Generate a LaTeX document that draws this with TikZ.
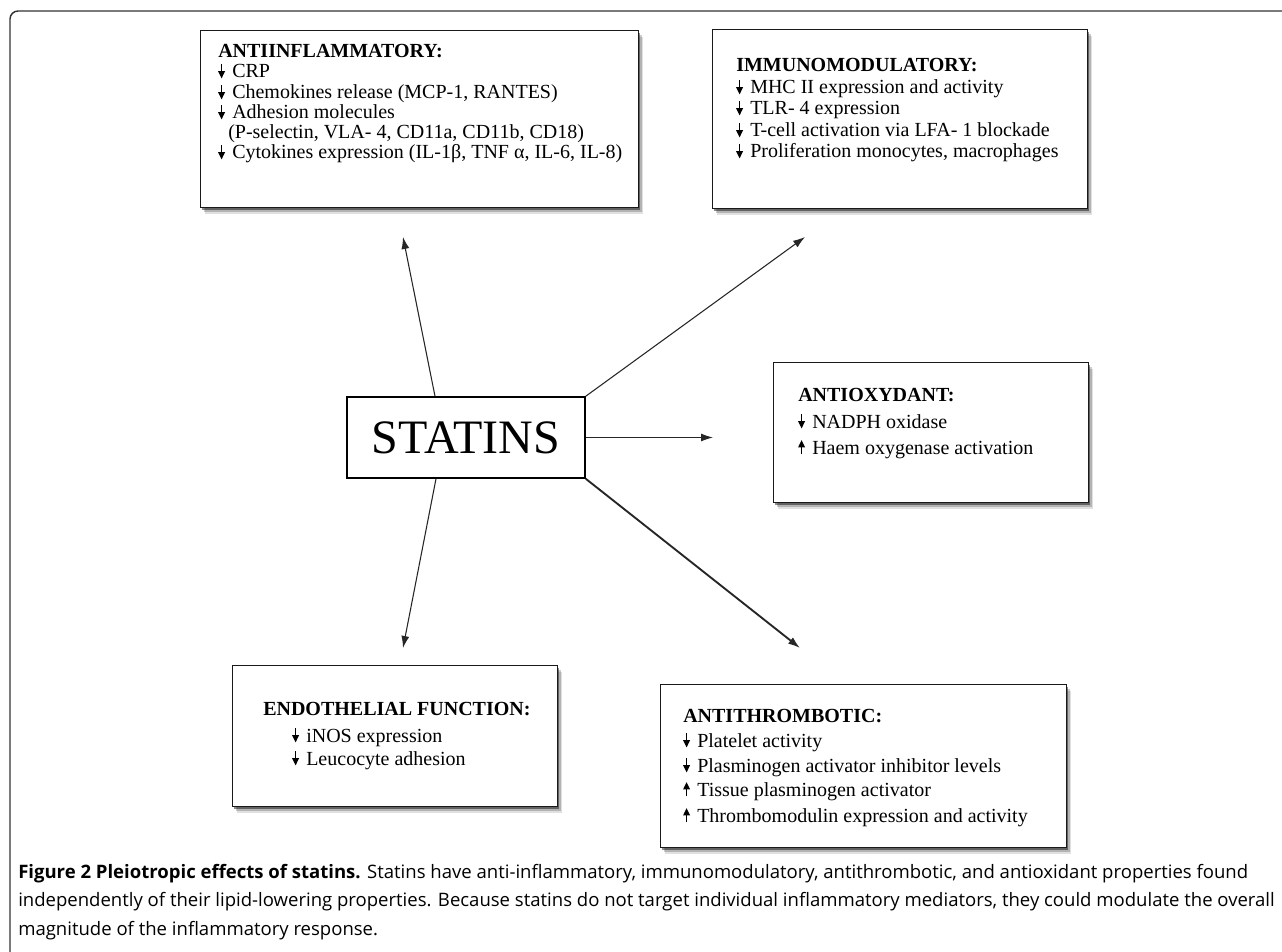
\documentclass[tikz,border=0pt]{standalone}
\usepackage{fontspec}
\usepackage{graphicx}
\setmainfont{Liberation Serif}
\newfontfamily\capfont{Open Sans}
\usetikzlibrary{arrows.meta,shadows,calc}
\newcommand\myDown{\makebox[10.5pt][l]{\tikz[baseline=0pt]\draw[line width=0.95pt,-{Triangle[length=5.4pt,width=5pt]}] (2.6pt,10.4pt) -- (2.6pt,-0.3pt);}}
\newcommand\myUp{\makebox[10.5pt][l]{\tikz[baseline=0pt]\draw[line width=0.95pt,-{Triangle[length=5.4pt,width=5pt]}] (2.6pt,-0.3pt) -- (2.6pt,10.4pt);}}
\begin{document}
\begin{tikzpicture}[x=0.75pt,y=-0.75pt,
  panel/.style={draw=black!90, line width=0.9pt, fill=white, inner sep=0pt, anchor=north west,
    drop shadow={shadow xshift=3pt, shadow yshift=-5pt, opacity=0.12, fill=black},
    drop shadow={shadow xshift=2.2pt, shadow yshift=-3.6pt, opacity=0.2, fill=black},
    drop shadow={shadow xshift=1.2pt, shadow yshift=-2pt, opacity=0.45, fill=black}},
  ln/.style={anchor=base west, inner sep=0pt, font=\fontsize{15}{18}\selectfont},
  hd/.style={anchor=base west, inner sep=0pt, font=\fontsize{15}{18}\selectfont\bfseries},
  captext/.style={anchor=base west, inner sep=0pt, font=\capfont\fontsize{13.9}{16}\selectfont},
  conn/.style={draw=black!85, line width=0.8pt, -{Latex[length=9pt,width=6pt]}}]
\useasboundingbox (0,0) rectangle (1282,952);
\clip (0,0) rectangle (1282,952);
\fill[white] (0,0) rectangle (1282,952);
\draw[black!80, line width=1.1pt, rounded corners=6pt] (10,11) rectangle (1320,980);

% panels
\node[panel, minimum width=328.5pt, minimum height=132.75pt] (A) at (200,30) {};
\node[panel, minimum width=281.25pt, minimum height=134.25pt] (B) at (712,29) {};
\node[panel, minimum width=236.25pt, minimum height=105pt] (C) at (773,362) {};
\node[panel, minimum width=243.75pt, minimum height=105.75pt] (D) at (232,665) {};
\node[panel, minimum width=304.5pt, minimum height=122.25pt] (E) at (660,684) {};

% statins
\node[draw=black, line width=1.2pt, fill=white, inner sep=0pt, minimum width=178.5pt, minimum height=60.75pt,
  font=\fontsize{36}{42}\selectfont] (S) at (466,437.5) {STATINS};

% panel A
\node[hd] (a0) at (218,58) {ANTIINFLAMMATORY:};
\node[ln] (a1) at (218,78) {\myDown CRP};
\node[ln] (a2) at (218,99) {\myDown Chemokines release (MCP-1, RANTES)};
\node[ln] (a3) at (218,119) {\myDown Adhesion molecules};
\node[ln] (a4) at (228,139) {(P-selectin, VLA- 4, CD11a, CD11b, CD18)};
\node[ln] (a5) at (218,159) {\myDown Cytokines expression (IL-1β, TNF α, IL-6, IL-8)};

% panel B
\node[hd] (b0) at (736,72) {IMMUNOMODULATORY:};
\node[ln] (b1) at (736,94) {\myDown MHC II expression and activity};
\node[ln] (b2) at (736,115) {\myDown TLR- 4 expression};
\node[ln] (b3) at (736,137) {\myDown T-cell activation via LFA- 1 blockade};
\node[ln] (b4) at (736,158) {\myDown Proliferation monocytes, macrophages};

% panel C
\node[hd] (c0) at (798,402) {ANTIOXYDANT:};
\node[ln] (c1) at (798,428) {\myDown NADPH oxidase};
\node[ln] (c2) at (798,454) {\myUp Haem oxygenase activation};

% panel D
\node[hd] (d0) at (263,715) {ENDOTHELIAL FUNCTION:};
\node[ln] (d1) at (292,742) {\myDown iNOS expression};
\node[ln] (d2) at (292,765) {\myDown Leucocyte adhesion};

% panel E
\node[hd] (e0) at (683,722) {ANTITHROMBOTIC:};
\node[ln] (e1) at (683,747) {\myDown Platelet activity};
\node[ln] (e2) at (683,772) {\myDown Plasminogen activator inhibitor levels};
\node[ln] (e3) at (683,796) {\myUp Tissue plasminogen activator};
\node[ln] (e4) at (683,822) {\myUp Thrombomodulin expression and activity};

% connectors
\coordinate (t1) at (403,237);
\coordinate (t2) at (805,237);
\coordinate (t3) at (713,437.5);
\coordinate (t4) at (403,648);
\coordinate (t5) at (800,648);
\draw[conn] ($(S.north)+(-31,0)$) -- (t1);
\draw[conn] (S.north east) -- (t2);
\draw[conn] (S.east) -- (t3);
\draw[conn] ($(S.south)+(-30,0)$) -- (t4);
\draw[conn, line width=1.4pt] (S.south east) -- (t5);

% caption
\node[captext] (k1) at (18,878) {\textbf{Figure 2 Pleiotropic effects of statins.} Statins have anti-inflammatory, immunomodulatory, antithrombotic, and antioxidant properties found};
\node[captext] (k2) at (18,906) {independently of their lipid-lowering properties. Because statins do not target individual inflammatory mediators, they could modulate the overall};
\node[captext] (k3) at (18,935) {magnitude of the inflammatory response.};
\end{tikzpicture}
\end{document}
